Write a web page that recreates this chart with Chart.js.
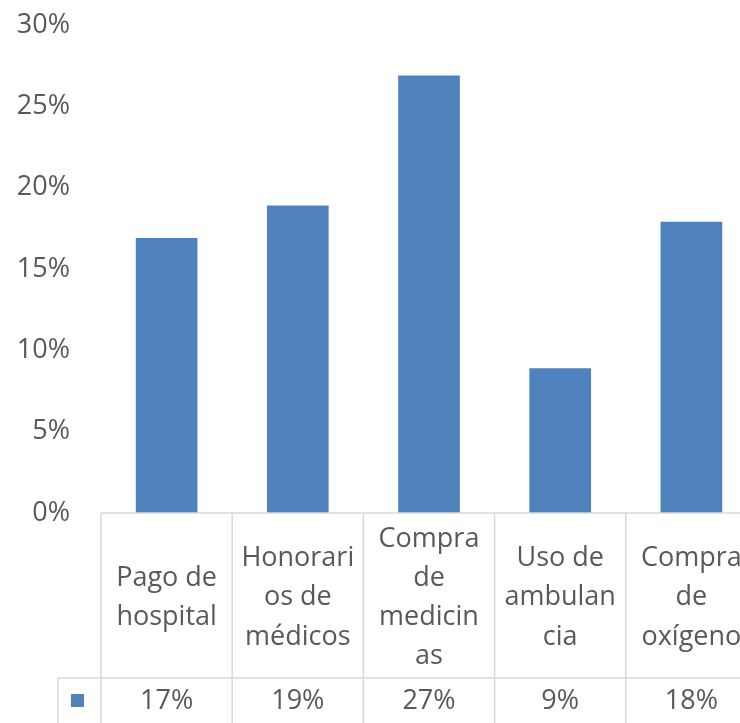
<!DOCTYPE html>
<html>
<head>
<meta charset="utf-8">
<script src="https://cdn.jsdelivr.net/npm/chart.js@4/dist/chart.umd.min.js"></script>
<style>
  html, body { margin: 0; padding: 0; background: #ffffff; overflow: hidden; }
  #wrap { width: 760px; height: 723px; }
</style>
</head>
<body>
<div id="wrap"><canvas id="c" width="760" height="723"></canvas></div>
<script>
// ---- data ----
const categories = [
  ["Pago de", "hospital"],
  ["Honorari", "os de", "médicos"],
  ["Compra", "de", "medicin", "as"],
  ["Uso de", "ambulan", "cia"],
  ["Compra", "de", "oxígeno"]
];
const values = [0.169, 0.189, 0.269, 0.089, 0.179];
const tableLabels = ["17%", "19%", "27%", "9%", "18%"];
const yTicks = [0, 0.05, 0.10, 0.15, 0.20, 0.25, 0.30];

const BAR = '#4F81BD';
const TXT = '#595959';
const LINE = '#D9D9D9';
const FONT = "'Open Sans', 'Noto Sans', sans-serif";

const tablePlugin = {
  id: 'dataTable',
  afterDraw(chart) {
    const ctx = chart.ctx;
    const x = chart.scales.x;
    const area = chart.chartArea;
    const n = categories.length;
    const step = x.getPixelForValue(1) - x.getPixelForValue(0);
    const left = x.getPixelForValue(0) - step / 2;
    const top = area.bottom;
    const rowY = top + 165;
    const H = chart.height;
    ctx.save();
    ctx.strokeStyle = LINE;
    ctx.lineWidth = 1.5;
    ctx.beginPath();
    ctx.moveTo(left, top); ctx.lineTo(chart.width, top);
    ctx.moveTo(left - 43, rowY); ctx.lineTo(chart.width, rowY);
    for (let i = 0; i <= n; i++) {
      const xx = left + i * step;
      ctx.moveTo(xx, top); ctx.lineTo(xx, H);
    }
    ctx.moveTo(left - 43, rowY); ctx.lineTo(left - 43, H);
    ctx.stroke();
    ctx.fillStyle = BAR;
    ctx.fillRect(left - 30, rowY + 16, 13, 13);
    ctx.fillStyle = TXT;
    ctx.font = "27px " + FONT;
    ctx.textAlign = 'center';
    ctx.textBaseline = 'middle';
    for (let i = 0; i < n; i++) {
      ctx.fillText(tableLabels[i], x.getPixelForValue(i), rowY + 23);
    }
    ctx.restore();
  }
};

new Chart(document.getElementById('c'), {
  type: 'bar',
  data: {
    labels: categories,
    datasets: [{
      data: values,
      backgroundColor: BAR,
      borderWidth: 0,
      categoryPercentage: 1.0,
      barPercentage: 0.47
    }]
  },
  options: {
    responsive: false,
    devicePixelRatio: 1,
    animation: false,
    layout: { padding: { top: 25, right: 3, left: 0, bottom: 0 } },
    plugins: { legend: { display: false }, tooltip: { enabled: false } },
    scales: {
      x: {
        offset: true,
        grid: { display: false, drawTicks: false },
        border: { display: false },
        ticks: {
          autoSkip: false,
          maxRotation: 0,
          minRotation: 0,
          crossAlign: 'center',
          padding: 26,
          color: TXT,
          font: { family: FONT, size: 27, lineHeight: 1.45 }
        },
        afterFit(scale) {
          scale.height = 210;
          scale.paddingLeft = 0;
          scale.paddingRight = 0;
        }
      },
      y: {
        min: 0,
        max: 0.3,
        grid: { display: false, drawTicks: false },
        border: { display: false },
        afterBuildTicks(scale) { scale.ticks = yTicks.map(v => ({ value: v })); },
        ticks: {
          padding: 31,
          color: TXT,
          font: { family: FONT, size: 27 },
          callback: v => Math.round(v * 100) + '%'
        },
        afterFit(scale) {
          scale.width = 101;
          scale.paddingTop = 0;
          scale.paddingBottom = 0;
        }
      }
    }
  },
  plugins: [tablePlugin]
});
</script>
</body>
</html>
